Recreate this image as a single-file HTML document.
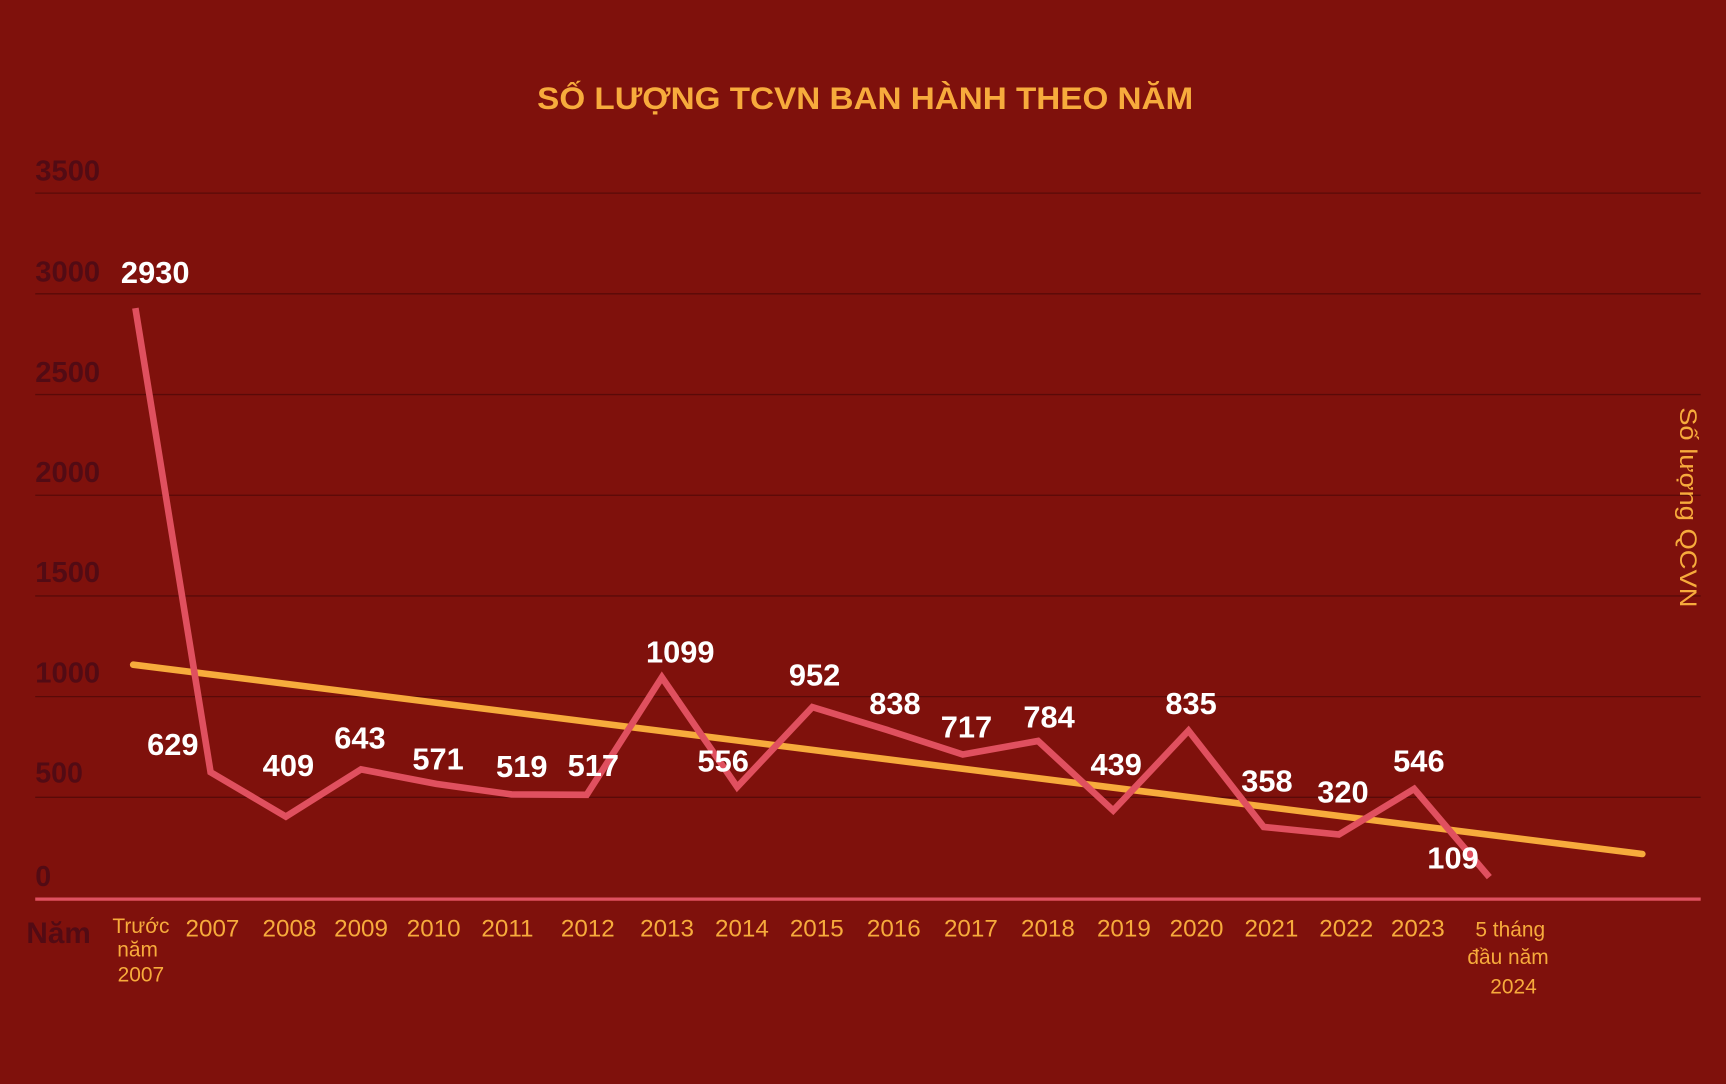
<!DOCTYPE html>
<html><head><meta charset="utf-8"><style>
html,body{margin:0;padding:0;background:#7f110c;}
svg{display:block;}
text{font-family:"Liberation Sans",sans-serif;}
</style></head><body>
<svg width="1726" height="1084" viewBox="0 0 1568 985" preserveAspectRatio="none" xmlns="http://www.w3.org/2000/svg">
<rect width="1568" height="985" fill="#7f110c"/>
<text x="786" y="99" text-anchor="middle" font-size="29" font-weight="bold" fill="#f7ab3c" textLength="596" lengthAdjust="spacingAndGlyphs">SỐ LƯỢNG TCVN BAN HÀNH THEO NĂM</text>
<g stroke="#5a0a08" stroke-width="1.2">
<line x1="32" y1="175.5" x2="1545" y2="175.5"/>
<line x1="32" y1="267" x2="1545" y2="267"/>
<line x1="32" y1="358.5" x2="1545" y2="358.5"/>
<line x1="32" y1="450" x2="1545" y2="450"/>
<line x1="32" y1="541.5" x2="1545" y2="541.5"/>
<line x1="32" y1="633" x2="1545" y2="633"/>
<line x1="32" y1="724.5" x2="1545" y2="724.5"/>
</g>
<g font-size="26" font-weight="bold" fill="#520b14">
<text x="32" y="164" textLength="59" lengthAdjust="spacingAndGlyphs">3500</text>
<text x="32" y="256" textLength="59" lengthAdjust="spacingAndGlyphs">3000</text>
<text x="32" y="347" textLength="59" lengthAdjust="spacingAndGlyphs">2500</text>
<text x="32" y="438" textLength="59" lengthAdjust="spacingAndGlyphs">2000</text>
<text x="32" y="529" textLength="59" lengthAdjust="spacingAndGlyphs">1500</text>
<text x="32" y="620" textLength="59" lengthAdjust="spacingAndGlyphs">1000</text>
<text x="32" y="711">500</text>
<text x="32" y="805">0</text>
<text x="24" y="857" font-size="27">Năm</text>
</g>
<line x1="32" y1="817" x2="1545" y2="817" stroke="#e0505f" stroke-width="3"/>
<line x1="121" y1="604" x2="1492" y2="776" stroke="#f7ab3c" stroke-width="6" stroke-linecap="round"/>
<polyline fill="none" stroke="#e0505f" stroke-width="6" stroke-linejoin="miter" points="123,280 191.3,701.7 259.7,742 328,699.1 396.3,712.3 464.7,721.9 533,722.2 601.3,615.5 669.7,715.1 738,642.5 806.3,663.4 874.7,685.6 943,673.3 1011.3,736.5 1079.7,663.9 1148,751.4 1216.3,758.3 1284.7,716.9 1353,797"/>
<g font-size="28" font-weight="bold" fill="#ffffff" text-anchor="middle">
<text x="141" y="257">2930</text>
<text x="157" y="686">629</text>
<text x="262" y="705">409</text>
<text x="327" y="680">643</text>
<text x="398" y="699">571</text>
<text x="474" y="706">519</text>
<text x="539" y="705">517</text>
<text x="618" y="602">1099</text>
<text x="657" y="701">556</text>
<text x="740" y="623">952</text>
<text x="813" y="649">838</text>
<text x="878" y="670">717</text>
<text x="953" y="661">784</text>
<text x="1014" y="704">439</text>
<text x="1082" y="649">835</text>
<text x="1151" y="719">358</text>
<text x="1220" y="729">320</text>
<text x="1289" y="701">546</text>
<text x="1320" y="789">109</text>
</g>
<g font-size="22" fill="#f7ab3c" text-anchor="middle">
<text x="193" y="851">2007</text>
<text x="263" y="851">2008</text>
<text x="328" y="851">2009</text>
<text x="394" y="851">2010</text>
<text x="461" y="851">2011</text>
<text x="534" y="851">2012</text>
<text x="606" y="851">2013</text>
<text x="674" y="851">2014</text>
<text x="742" y="851">2015</text>
<text x="812" y="851">2016</text>
<text x="882" y="851">2017</text>
<text x="952" y="851">2018</text>
<text x="1021" y="851">2019</text>
<text x="1087" y="851">2020</text>
<text x="1155" y="851">2021</text>
<text x="1223" y="851">2022</text>
<text x="1288" y="851">2023</text>
</g>
<g font-size="19" fill="#f7ab3c" text-anchor="middle">
<text x="128" y="848">Trước</text>
<text x="125" y="869">năm</text>
<text x="128" y="892">2007</text>
<text x="1372" y="851">5 tháng</text>
<text x="1370" y="876">đầu năm</text>
<text x="1375" y="903">2024</text>
</g>
<text transform="translate(1526,461) rotate(90)" text-anchor="middle" font-size="22" fill="#f7ab3c" textLength="182" lengthAdjust="spacingAndGlyphs">Số lượng QCVN</text>
</svg>
</body></html>
